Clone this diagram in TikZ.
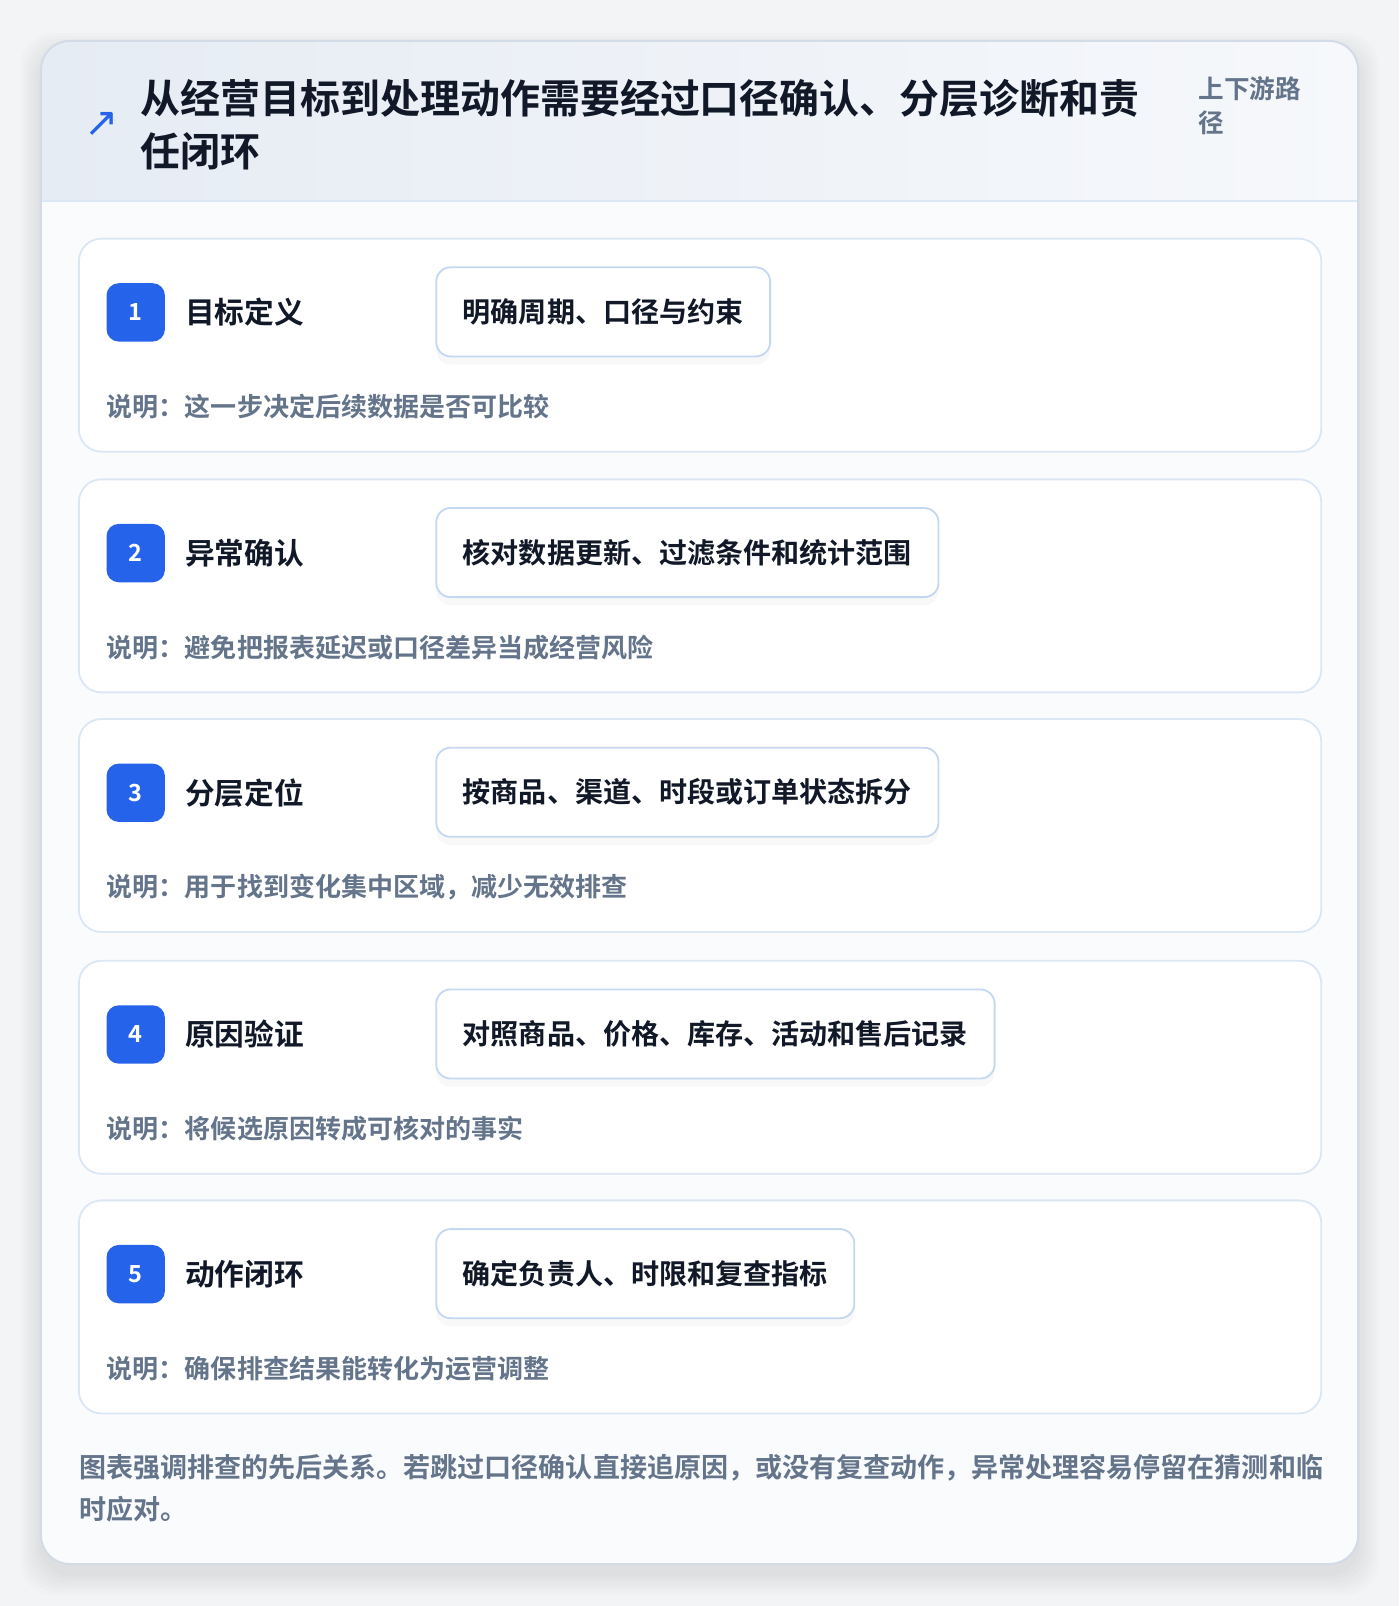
\documentclass[tikz,border=0pt]{standalone}
\usepackage{fontspec}
\setmainfont{Noto Sans CJK SC}[BoldFont={Noto Sans CJK SC Bold}]
\newfontfamily\symfont{DejaVu Sans}
\usepackage{tikz}
\usetikzlibrary{positioning,shadows}
\definecolor{pagebg}{HTML}{F3F4F6}
\definecolor{cardline}{HTML}{D3DBE6}
\definecolor{headleft}{HTML}{E6ECF4}
\definecolor{headright}{HTML}{F6F8FB}
\definecolor{bodybg}{HTML}{FAFBFD}
\definecolor{boxline}{HTML}{DCE7F6}
\definecolor{tagline}{HTML}{C5D8F1}
\definecolor{badgeblue}{HTML}{2563EB}
\definecolor{titleink}{HTML}{111827}
\definecolor{notegray}{HTML}{64748B}
\tikzstyle{stepbox}=[draw=boxline, fill=white, rounded corners=11pt, line width=0.9pt, minimum width=606.5pt, minimum height=104pt]
\tikzstyle{badge}=[fill=badgeblue, rounded corners=6pt, minimum size=28.5pt, inner sep=0pt, text=white, font=\bfseries\fontsize{11.5}{13}\selectfont]
\tikzstyle{steptitle}=[inner sep=0pt, text=titleink, font=\bfseries\fontsize{14.5}{18}\selectfont]
\tikzstyle{tag}=[draw=tagline, fill=white, rounded corners=7pt, line width=0.9pt, minimum height=43.5pt, inner xsep=13pt, anchor=west, text=titleink, font=\bfseries\fontsize{13.7}{16}\selectfont, drop shadow={shadow xshift=0pt, shadow yshift=-4pt, opacity=0.05}]
\tikzstyle{note}=[anchor=west, inner sep=0pt, text=notegray, font=\bfseries\fontsize{12.7}{15}\selectfont]

\begin{document}
\begin{tikzpicture}[x=0.5pt,y=-0.5pt]
\useasboundingbox (0,0) rectangle (1366,1568);
\fill[pagebg] (0,0) rectangle (1366,1568);

% card with soft shadow
\foreach \s in {2,5,...,20}
  \fill[black, opacity=0.011, rounded corners=16pt] (40-\s,52-\s) rectangle (1326+\s,1537+\s);
\fill[bodybg, rounded corners=14pt] (40,40) rectangle (1326,1527);
\begin{scope}
\clip[rounded corners=14pt] (40,40) rectangle (1326,1527);
\fill[left color=headleft, right color=headright] (40,40) rectangle (1326,196);
\end{scope}
\draw[boxline, line width=1pt] (40,196) -- (1326,196);
\draw[cardline, line width=1pt, rounded corners=14pt] (40,40) rectangle (1326,1527);

% header
\node[text=badgeblue, font=\symfont\fontsize{20}{22}\selectfont, inner sep=0pt] (icon) at (99,122) {↗};
\node[anchor=west, inner sep=0pt, align=left, text=titleink, font=\bfseries\fontsize{19.5}{26}\selectfont] (title) at (137,122) {从经营目标到处理动作需要经过口径确认、分层诊断和责\\任闭环};
\node[anchor=west, inner sep=0pt, align=left, text=notegray, font=\bfseries\fontsize{12.5}{16.5}\selectfont] (scope) at (1170,103.5) {上下游路\\径};

% step 1
\node[stepbox] (box1) at (683.5,337) {};
\node[badge] (badge1) at (132.5,305) {1};
\node[steptitle, right=9.5pt of badge1] (name1) {目标定义};
\node[tag] (tag1) at (425,304.5) {明确周期、口径与约束};
\node[note] (note1) at (104,397) {说明：这一步决定后续数据是否可比较};

% step 2
\node[stepbox] (box2) at (683.5,572) {};
\node[badge] (badge2) at (132.5,540) {2};
\node[steptitle, right=9.5pt of badge2] (name2) {异常确认};
\node[tag] (tag2) at (425,539.5) {核对数据更新、过滤条件和统计范围};
\node[note] (note2) at (104,632) {说明：避免把报表延迟或口径差异当成经营风险};

% step 3
\node[stepbox] (box3) at (683.5,806) {};
\node[badge] (badge3) at (132.5,774) {3};
\node[steptitle, right=9.5pt of badge3] (name3) {分层定位};
\node[tag] (tag3) at (425,773.5) {按商品、渠道、时段或订单状态拆分};
\node[note] (note3) at (104,866) {说明：用于找到变化集中区域，减少无效排查};

% step 4
\node[stepbox] (box4) at (683.5,1042) {};
\node[badge] (badge4) at (132.5,1010) {4};
\node[steptitle, right=9.5pt of badge4] (name4) {原因验证};
\node[tag] (tag4) at (425,1009.5) {对照商品、价格、库存、活动和售后记录};
\node[note] (note4) at (104,1102) {说明：将候选原因转成可核对的事实};

% step 5
\node[stepbox] (box5) at (683.5,1276) {};
\node[badge] (badge5) at (132.5,1244) {5};
\node[steptitle, right=9.5pt of badge5] (name5) {动作闭环};
\node[tag] (tag5) at (425,1243.5) {确定负责人、时限和复查指标};
\node[note] (note5) at (104,1336) {说明：确保排查结果能转化为运营调整};

% footer
\node[anchor=west, inner sep=0pt, align=left, text=notegray, font=\bfseries\fontsize{13.2}{20.5}\selectfont] (footer) at (77,1452.5) {图表强调排查的先后关系。若跳过口径确认直接追原因，或没有复查动作，异常处理容易停留在猜测和临\\时应对。};
\end{tikzpicture}
\end{document}
